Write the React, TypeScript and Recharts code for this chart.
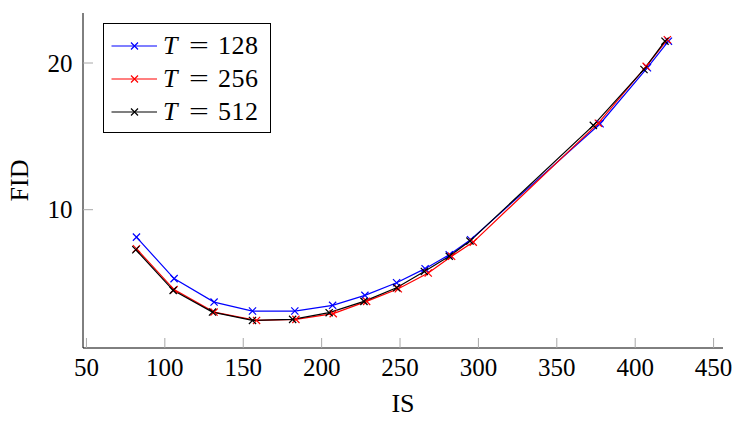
import { LineChart, Line, XAxis, YAxis, Legend } from 'recharts'

// IS / FID pairs, one pair of arrays per T
const is128 = [81.9, 105.9, 131.4, 155.9, 182.9, 207.0, 227.6, 247.8, 266.0, 281.4, 295.0, 377.6, 407.8, 421.2]
const fid128 = [8.13, 5.3, 3.7, 3.09, 3.09, 3.48, 4.16, 5.02, 5.98, 6.93, 7.95, 15.86, 19.68, 21.49]

const is256 = [81.9, 105.9, 131.4, 158.5, 183.6, 207.4, 228.7, 248.9, 268.0, 282.9, 296.7, 376.5, 407.0, 420.5]
const fid256 = [7.34, 4.55, 3.02, 2.45, 2.52, 2.91, 3.75, 4.61, 5.68, 6.82, 7.79, 15.9, 19.77, 21.59]

const is512 = [81.5, 105.3, 130.4, 155.9, 181.5, 204.8, 227.0, 247.8, 265.5, 281.4, 294.6, 373.3, 405.6, 419.0]
const fid512 = [7.27, 4.5, 3.02, 2.45, 2.52, 2.98, 3.75, 4.68, 5.79, 6.82, 7.86, 15.75, 19.56, 21.49]

const xTicks = [50, 100, 150, 200, 250, 300, 350, 400, 450]
const yTicks = [10, 20]

const zip = (xs: number[], ys: number[]) => xs.map((v, i) => ({ is: v, fid: ys[i] }))

const series = [
  { label: '128', color: '#0000ff', data: zip(is128, fid128) },
  { label: '256', color: '#ff0000', data: zip(is256, fid256) },
  { label: '512', color: '#000000', data: zip(is512, fid512) },
]

const FONT = '"Liberation Serif", "DejaVu Serif", serif'
const TICK_GRAY = '#a8a8a8'
const TICK_LEN = 10
const X_DOMAIN = [47.8, 456]
const Y_DOMAIN = [0.57, 23.41]

function BottomTick({ x, y, payload }: any) {
  return (
    <g>
      <line x1={x} x2={x} y1={y} y2={y - TICK_LEN} stroke={TICK_GRAY} />
      <text x={x} y={y + 28} textAnchor="middle" fontFamily={FONT} fontSize={25} fill="#000">
        {payload.value}
      </text>
    </g>
  )
}

function TopTick({ x, y }: any) {
  return <line x1={x} x2={x} y1={y} y2={y + TICK_LEN} stroke={TICK_GRAY} />
}

function LeftTick({ x, y, payload }: any) {
  return (
    <g>
      <line x1={x} x2={x + TICK_LEN} y1={y} y2={y} stroke={TICK_GRAY} />
      <text x={x - 10.5} y={y + 8.5} textAnchor="end" fontFamily={FONT} fontSize={25} fill="#000">
        {payload.value}
      </text>
    </g>
  )
}

function RightTick({ x, y }: any) {
  return <line x1={x} x2={x - TICK_LEN} y1={y} y2={y} stroke={TICK_GRAY} />
}

const cross = (color: string) => (props: any) => {
  const { cx, cy, key } = props
  const s = 3.6
  return (
    <path
      key={key}
      d={`M${cx - s},${cy - s}L${cx + s},${cy + s}M${cx - s},${cy + s}L${cx + s},${cy - s}`}
      stroke={color}
      strokeWidth={1.2}
      fill="none"
    />
  )
}

const legendText = {
  position: 'absolute' as const,
  top: 0,
  lineHeight: '32px',
  fontFamily: FONT,
  fontSize: 26,
  whiteSpace: 'nowrap' as const,
  color: '#000',
}

function LegendBox() {
  const rows = [21.6, 55, 88.3]
  return (
    <div
      style={{
        width: 168,
        height: 110,
        boxSizing: 'border-box',
        border: '1px solid #000',
        background: '#fff',
        position: 'relative',
      }}
    >
      {series.map((s, i) => (
        <div key={s.label} style={{ position: 'absolute', left: 0, top: rows[i] - 16, height: 32, width: 168 }}>
          <svg width={60} height={32} style={{ position: 'absolute', left: 0, top: 0 }}>
            <line x1={7.5} x2={53} y1={16} y2={16} stroke={s.color} strokeWidth={1.2} />
            <path d="M27,12.5L34,19.5M27,19.5L34,12.5" stroke={s.color} strokeWidth={1.2} fill="none" />
          </svg>
          <span style={{ ...legendText, left: 59, fontStyle: 'italic' }}>T</span>
          <span style={{ ...legendText, left: 85, transform: 'scaleX(1.35)', transformOrigin: 'left center' }}>=</span>
          <span style={{ ...legendText, left: 114, letterSpacing: '0.5px' }}>{s.label}</span>
        </div>
      ))}
    </div>
  )
}

export default function App() {
  return (
    <div style={{ position: 'absolute', left: 0, top: 0, background: '#fff' }}>
      <LineChart width={742} height={421} margin={{ top: 13, right: 19, bottom: 0, left: 0 }}>
        <XAxis
          dataKey="is"
          type="number"
          domain={X_DOMAIN}
          ticks={xTicks}
          height={73}
          tickSize={0}
          tickMargin={0}
          tickLine={false}
          axisLine={{ stroke: '#000' }}
          tick={<BottomTick />}
          interval={0}
          allowDuplicatedCategory={false}
          label={{ value: 'IS', position: 'insideBottom', offset: 9, fill: '#000', fontSize: 26, fontFamily: FONT }}
        />
        <XAxis
          xAxisId="top"
          orientation="top"
          dataKey="is"
          type="number"
          domain={X_DOMAIN}
          ticks={xTicks}
          height={0}
          tickSize={0}
          tickMargin={0}
          tickLine={false}
          axisLine={{ stroke: '#000' }}
          tick={<TopTick />}
          interval={0}
        />
        <YAxis
          type="number"
          domain={Y_DOMAIN}
          ticks={yTicks}
          width={83}
          tickSize={0}
          tickMargin={0}
          tickLine={false}
          axisLine={{ stroke: '#000' }}
          tick={<LeftTick />}
          interval={0}
          label={{
            content: (props: any) => {
              const vb = props.viewBox
              return (
                <text
                  transform={`translate(${vb.x + 28.3}, ${vb.y + vb.height / 2}) rotate(-90)`}
                  textAnchor="middle"
                  fontFamily={FONT}
                  fontSize={26}
                  fill="#000"
                >
                  FID
                </text>
              )
            },
          }}
        />
        <YAxis
          yAxisId="right"
          orientation="right"
          type="number"
          domain={Y_DOMAIN}
          ticks={yTicks}
          width={0}
          tickSize={0}
          tickMargin={0}
          tickLine={false}
          axisLine={{ stroke: '#000' }}
          tick={<RightTick />}
          interval={0}
        />
        <Legend
          layout="vertical"
          align="center"
          verticalAlign="middle"
          wrapperStyle={{ left: 103, top: 23, width: 168, height: 110 }}
          content={() => <LegendBox />}
        />
        {series.map((s) => (
          <Line
            key={s.label}
            name={`T = ${s.label}`}
            data={s.data}
            dataKey="fid"
            stroke={s.color}
            strokeWidth={1.2}
            dot={cross(s.color)}
            activeDot={false}
            isAnimationActive={false}
          />
        ))}
      </LineChart>
    </div>
  )
}
